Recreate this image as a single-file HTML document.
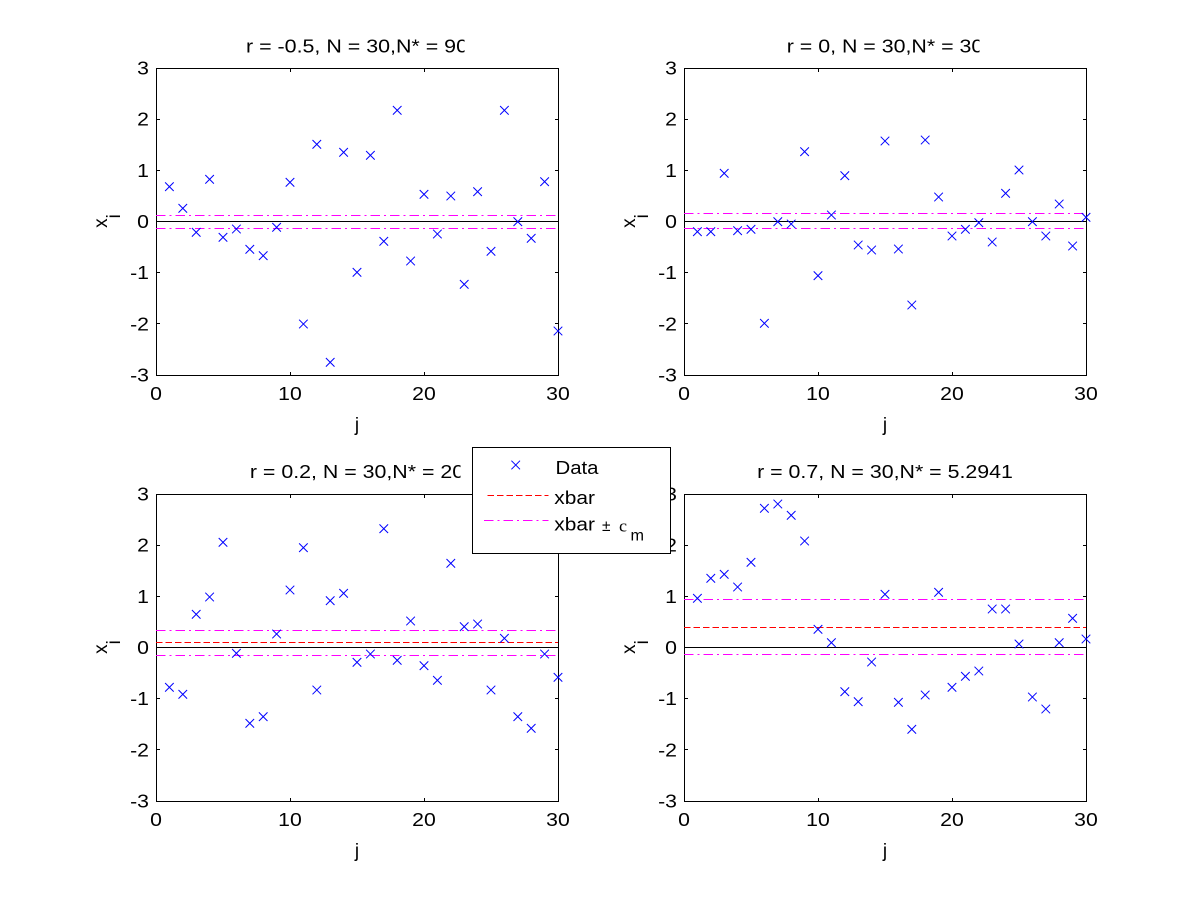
<!DOCTYPE html>
<html><head><meta charset="utf-8"><style>
html,body{margin:0;padding:0;background:#fff;}
svg{display:block;}
text{font-family:"Liberation Sans",Arial,sans-serif;fill:#000;}
</style></head><body>
<svg width="1200" height="900" viewBox="0 0 1200 900" xmlns="http://www.w3.org/2000/svg">
<defs>
<path id="m" d="M-4.3 -4.3L4.3 4.3M4.3 -4.3L-4.3 4.3" stroke="#0000ff" stroke-width="1" fill="none"/>
<g id="ax" fill="none" stroke="#000" stroke-width="1" shape-rendering="crispEdges">
<rect x="0.5" y="0.5" width="402" height="307"/>
<path d="M0 51.5h4M0 102.5h4M0 153.5h4M0 204.5h4M0 255.5h4M403 51.5h-4M403 102.5h-4M403 153.5h-4M403 204.5h-4M403 255.5h-4M134.5 0v4M268.5 0v4M134.5 308v-4M268.5 308v-4"/>
</g>
<clipPath id="c1"><rect x="0" y="0" width="464.5" height="450"/></clipPath>
<clipPath id="c2"><rect x="600" y="0" width="379.5" height="450"/></clipPath>
<clipPath id="c3"><rect x="0" y="450" width="460.5" height="100"/></clipPath>
</defs>
<rect width="1200" height="900" fill="#fff"/>

<!-- axes frames -->
<use href="#ax" transform="translate(156,68)"/>
<use href="#ax" transform="translate(684,68)"/>
<use href="#ax" transform="translate(156,494)"/>
<use href="#ax" transform="translate(684,494)"/>

<!-- reference lines -->
<g fill="none" stroke-width="1" shape-rendering="crispEdges">
<path d="M156 221.5H558" stroke="#ff0000" stroke-dasharray="6.5 3"/>
<path d="M156 215.5H558M156 228.5H558" stroke="#ff00ff" stroke-dasharray="9.5 4 2 4"/>
<path d="M156 221.5H558" stroke="#000"/>
<path d="M684 221.5H1086" stroke="#ff0000" stroke-dasharray="6.5 3"/>
<path d="M684 213.5H1086M684 228.5H1086" stroke="#ff00ff" stroke-dasharray="9.5 4 2 4"/>
<path d="M684 221.5H1086" stroke="#000"/>
<path d="M156 642.5H558" stroke="#ff0000" stroke-dasharray="6.5 3"/>
<path d="M156 630.5H558M156 655.5H558" stroke="#ff00ff" stroke-dasharray="9.5 4 2 4"/>
<path d="M156 647.5H558" stroke="#000"/>
<path d="M684 627.5H1086" stroke="#ff0000" stroke-dasharray="6.5 3"/>
<path d="M684 599.5H1086M684 654.5H1086" stroke="#ff00ff" stroke-dasharray="9.5 4 2 4"/>
<path d="M684 647.5H1086" stroke="#000"/>
</g>

<!-- markers TL -->
<g transform="translate(156,30)">
<use href="#m" x="13.4" y="156.7"/><use href="#m" x="26.8" y="178.3"/><use href="#m" x="40.2" y="202.3"/><use href="#m" x="53.6" y="149.3"/><use href="#m" x="67" y="207.3"/><use href="#m" x="80.4" y="199"/><use href="#m" x="93.8" y="219.3"/><use href="#m" x="107.2" y="225.7"/><use href="#m" x="120.6" y="197.3"/><use href="#m" x="134" y="152.3"/><use href="#m" x="147.4" y="294"/><use href="#m" x="160.8" y="114.3"/><use href="#m" x="174.2" y="332.3"/><use href="#m" x="187.6" y="122.3"/><use href="#m" x="201" y="242.3"/><use href="#m" x="214.4" y="125.3"/><use href="#m" x="227.8" y="211.3"/><use href="#m" x="241.2" y="80.3"/><use href="#m" x="254.6" y="231"/><use href="#m" x="268" y="164.3"/><use href="#m" x="281.4" y="204"/><use href="#m" x="294.8" y="166"/><use href="#m" x="308.2" y="254.3"/><use href="#m" x="321.6" y="161.7"/><use href="#m" x="335" y="221.3"/><use href="#m" x="348.4" y="80.3"/><use href="#m" x="361.8" y="191.7"/><use href="#m" x="375.2" y="208.3"/><use href="#m" x="388.6" y="151.7"/><use href="#m" x="402" y="301"/>
</g>
<!-- markers TR -->
<g transform="translate(684,30)">
<use href="#m" x="13.4" y="201.7"/><use href="#m" x="26.8" y="201.7"/><use href="#m" x="40.2" y="143.3"/><use href="#m" x="53.6" y="200.7"/><use href="#m" x="67" y="199.3"/><use href="#m" x="80.4" y="293.3"/><use href="#m" x="93.8" y="191.7"/><use href="#m" x="107.2" y="194"/><use href="#m" x="120.6" y="121.7"/><use href="#m" x="134" y="245.7"/><use href="#m" x="147.4" y="185"/><use href="#m" x="160.8" y="145.7"/><use href="#m" x="174.2" y="215"/><use href="#m" x="187.6" y="220"/><use href="#m" x="201" y="111"/><use href="#m" x="214.4" y="219"/><use href="#m" x="227.8" y="275"/><use href="#m" x="241.2" y="110"/><use href="#m" x="254.6" y="167"/><use href="#m" x="268" y="206"/><use href="#m" x="281.4" y="199.3"/><use href="#m" x="294.8" y="192.7"/><use href="#m" x="308.2" y="212"/><use href="#m" x="321.6" y="163.3"/><use href="#m" x="335" y="140"/><use href="#m" x="348.4" y="191.7"/><use href="#m" x="361.8" y="206"/><use href="#m" x="375.2" y="174"/><use href="#m" x="388.6" y="216"/><use href="#m" x="402" y="187.3"/>
</g>
<!-- markers BL -->
<g transform="translate(156,450)">
<use href="#m" x="13.4" y="237.3"/><use href="#m" x="26.8" y="244.3"/><use href="#m" x="40.2" y="164.3"/><use href="#m" x="53.6" y="147"/><use href="#m" x="67" y="92.3"/><use href="#m" x="80.4" y="203.3"/><use href="#m" x="93.8" y="273.3"/><use href="#m" x="107.2" y="266.7"/><use href="#m" x="120.6" y="184"/><use href="#m" x="134" y="140"/><use href="#m" x="147.4" y="97.7"/><use href="#m" x="160.8" y="240"/><use href="#m" x="174.2" y="150.7"/><use href="#m" x="187.6" y="143.3"/><use href="#m" x="201" y="212.3"/><use href="#m" x="214.4" y="204"/><use href="#m" x="227.8" y="78.7"/><use href="#m" x="241.2" y="210.3"/><use href="#m" x="254.6" y="171"/><use href="#m" x="268" y="215.7"/><use href="#m" x="281.4" y="230.3"/><use href="#m" x="294.8" y="113.3"/><use href="#m" x="308.2" y="176.7"/><use href="#m" x="321.6" y="174"/><use href="#m" x="335" y="240"/><use href="#m" x="348.4" y="188.3"/><use href="#m" x="361.8" y="266.7"/><use href="#m" x="375.2" y="278.3"/><use href="#m" x="388.6" y="204"/><use href="#m" x="402" y="227.3"/>
</g>
<!-- markers BR -->
<g transform="translate(684,450)">
<use href="#m" x="13.4" y="148.3"/><use href="#m" x="26.8" y="128.3"/><use href="#m" x="40.2" y="124.3"/><use href="#m" x="53.6" y="137"/><use href="#m" x="67" y="112.3"/><use href="#m" x="80.4" y="58.3"/><use href="#m" x="93.8" y="54"/><use href="#m" x="107.2" y="65.3"/><use href="#m" x="120.6" y="91"/><use href="#m" x="134" y="179.3"/><use href="#m" x="147.4" y="192.7"/><use href="#m" x="160.8" y="241.7"/><use href="#m" x="174.2" y="251.7"/><use href="#m" x="187.6" y="212"/><use href="#m" x="201" y="144.3"/><use href="#m" x="214.4" y="252.3"/><use href="#m" x="227.8" y="279.3"/><use href="#m" x="241.2" y="245"/><use href="#m" x="254.6" y="142.3"/><use href="#m" x="268" y="237.3"/><use href="#m" x="281.4" y="226.3"/><use href="#m" x="294.8" y="221"/><use href="#m" x="308.2" y="159"/><use href="#m" x="321.6" y="159"/><use href="#m" x="335" y="194"/><use href="#m" x="348.4" y="247"/><use href="#m" x="361.8" y="259"/><use href="#m" x="375.2" y="192.7"/><use href="#m" x="388.6" y="168.3"/><use href="#m" x="402" y="189"/>
</g>

<!-- Y tick labels -->
<g font-size="18" text-anchor="end">
<text x="149" y="74.5" textLength="11.8" lengthAdjust="spacingAndGlyphs">3</text>
<text x="149" y="125.7" textLength="11.8" lengthAdjust="spacingAndGlyphs">2</text>
<text x="149" y="176.8" textLength="11.8" lengthAdjust="spacingAndGlyphs">1</text>
<text x="149" y="228" textLength="11.8" lengthAdjust="spacingAndGlyphs">0</text>
<text x="149" y="279.2" textLength="18.9" lengthAdjust="spacingAndGlyphs">-1</text>
<text x="149" y="330.3" textLength="18.9" lengthAdjust="spacingAndGlyphs">-2</text>
<text x="149" y="381.5" textLength="18.9" lengthAdjust="spacingAndGlyphs">-3</text>

<text x="677" y="74.5" textLength="11.8" lengthAdjust="spacingAndGlyphs">3</text>
<text x="677" y="125.7" textLength="11.8" lengthAdjust="spacingAndGlyphs">2</text>
<text x="677" y="176.8" textLength="11.8" lengthAdjust="spacingAndGlyphs">1</text>
<text x="677" y="228" textLength="11.8" lengthAdjust="spacingAndGlyphs">0</text>
<text x="677" y="279.2" textLength="18.9" lengthAdjust="spacingAndGlyphs">-1</text>
<text x="677" y="330.3" textLength="18.9" lengthAdjust="spacingAndGlyphs">-2</text>
<text x="677" y="381.5" textLength="18.9" lengthAdjust="spacingAndGlyphs">-3</text>

<text x="149" y="500.5" textLength="11.8" lengthAdjust="spacingAndGlyphs">3</text>
<text x="149" y="551.7" textLength="11.8" lengthAdjust="spacingAndGlyphs">2</text>
<text x="149" y="602.8" textLength="11.8" lengthAdjust="spacingAndGlyphs">1</text>
<text x="149" y="654" textLength="11.8" lengthAdjust="spacingAndGlyphs">0</text>
<text x="149" y="705.2" textLength="18.9" lengthAdjust="spacingAndGlyphs">-1</text>
<text x="149" y="756.3" textLength="18.9" lengthAdjust="spacingAndGlyphs">-2</text>
<text x="149" y="807.5" textLength="18.9" lengthAdjust="spacingAndGlyphs">-3</text>

<text x="677" y="500.5" textLength="11.8" lengthAdjust="spacingAndGlyphs">3</text>
<text x="677" y="551.7" textLength="11.8" lengthAdjust="spacingAndGlyphs">2</text>
<text x="677" y="602.8" textLength="11.8" lengthAdjust="spacingAndGlyphs">1</text>
<text x="677" y="654" textLength="11.8" lengthAdjust="spacingAndGlyphs">0</text>
<text x="677" y="705.2" textLength="18.9" lengthAdjust="spacingAndGlyphs">-1</text>
<text x="677" y="756.3" textLength="18.9" lengthAdjust="spacingAndGlyphs">-2</text>
<text x="677" y="807.5" textLength="18.9" lengthAdjust="spacingAndGlyphs">-3</text>
</g>

<!-- X tick labels -->
<g font-size="18" text-anchor="middle">
<text x="156" y="400" textLength="11.8" lengthAdjust="spacingAndGlyphs">0</text>
<text x="290" y="400" textLength="23.6" lengthAdjust="spacingAndGlyphs">10</text>
<text x="424" y="400" textLength="23.6" lengthAdjust="spacingAndGlyphs">20</text>
<text x="558" y="400" textLength="23.6" lengthAdjust="spacingAndGlyphs">30</text>
<text x="684" y="400" textLength="11.8" lengthAdjust="spacingAndGlyphs">0</text>
<text x="818" y="400" textLength="23.6" lengthAdjust="spacingAndGlyphs">10</text>
<text x="952" y="400" textLength="23.6" lengthAdjust="spacingAndGlyphs">20</text>
<text x="1086" y="400" textLength="23.6" lengthAdjust="spacingAndGlyphs">30</text>
<text x="156" y="826" textLength="11.8" lengthAdjust="spacingAndGlyphs">0</text>
<text x="290" y="826" textLength="23.6" lengthAdjust="spacingAndGlyphs">10</text>
<text x="424" y="826" textLength="23.6" lengthAdjust="spacingAndGlyphs">20</text>
<text x="558" y="826" textLength="23.6" lengthAdjust="spacingAndGlyphs">30</text>
<text x="684" y="826" textLength="11.8" lengthAdjust="spacingAndGlyphs">0</text>
<text x="818" y="826" textLength="23.6" lengthAdjust="spacingAndGlyphs">10</text>
<text x="952" y="826" textLength="23.6" lengthAdjust="spacingAndGlyphs">20</text>
<text x="1086" y="826" textLength="23.6" lengthAdjust="spacingAndGlyphs">30</text>
</g>

<!-- X labels -->
<g font-size="19" text-anchor="middle">
<text x="357" y="431">j</text>
<text x="885" y="431">j</text>
<text x="357" y="857">j</text>
<text x="885" y="857">j</text>
</g>

<!-- Y labels -->
<g font-size="19" text-anchor="middle">
<text transform="translate(107,221) rotate(-90)">x<tspan dy="13">i</tspan></text>
<text transform="translate(635,221) rotate(-90)">x<tspan dy="13">i</tspan></text>
<text transform="translate(107,647) rotate(-90)">x<tspan dy="13">i</tspan></text>
<text transform="translate(635,647) rotate(-90)">x<tspan dy="13">i</tspan></text>
</g>

<!-- Titles -->
<g font-size="18" text-anchor="middle">
<g clip-path="url(#c1)"><text x="357" y="52.5" textLength="222" lengthAdjust="spacingAndGlyphs">r = -0.5, N = 30,N* = 90</text></g>
<g clip-path="url(#c2)"><text x="885" y="52.5" textLength="196.5" lengthAdjust="spacingAndGlyphs">r = 0, N = 30,N* = 30</text></g>
<g clip-path="url(#c3)"><text x="357" y="478" textLength="214.2" lengthAdjust="spacingAndGlyphs">r = 0.2, N = 30,N* = 20</text></g>
<text x="885" y="478" textLength="255.8" lengthAdjust="spacingAndGlyphs">r = 0.7, N = 30,N* = 5.2941</text>
</g>

<!-- Legend -->
<rect x="472.5" y="447.5" width="198" height="106" fill="#fff" stroke="#000" stroke-width="1" shape-rendering="crispEdges"/>
<use href="#m" x="515.7" y="465"/>
<path d="M487.7 495.5H548.3" stroke="#ff0000" stroke-width="1" stroke-dasharray="6.5 3" fill="none" shape-rendering="crispEdges"/>
<path d="M484 520.5H548.3" stroke="#ff00ff" stroke-width="1" stroke-dasharray="9.5 4 2 4" fill="none" shape-rendering="crispEdges"/>
<g font-size="18">
<text x="555.5" y="474" textLength="43" lengthAdjust="spacingAndGlyphs">Data</text>
<text x="554.3" y="504" textLength="40.6" lengthAdjust="spacingAndGlyphs">xbar</text>
<text x="554.3" y="530.5" textLength="40.6" lengthAdjust="spacingAndGlyphs">xbar</text>
<text x="602" y="531" font-size="16" textLength="8.5" lengthAdjust="spacingAndGlyphs">±</text>
<text x="619" y="531.5" font-size="17" style="font-family:'Liberation Serif',serif" textLength="8" lengthAdjust="spacingAndGlyphs">c</text>
<text x="630.5" y="540.5" font-size="16" textLength="13.5" lengthAdjust="spacingAndGlyphs">m</text>
</g>
</svg>
</body></html>
